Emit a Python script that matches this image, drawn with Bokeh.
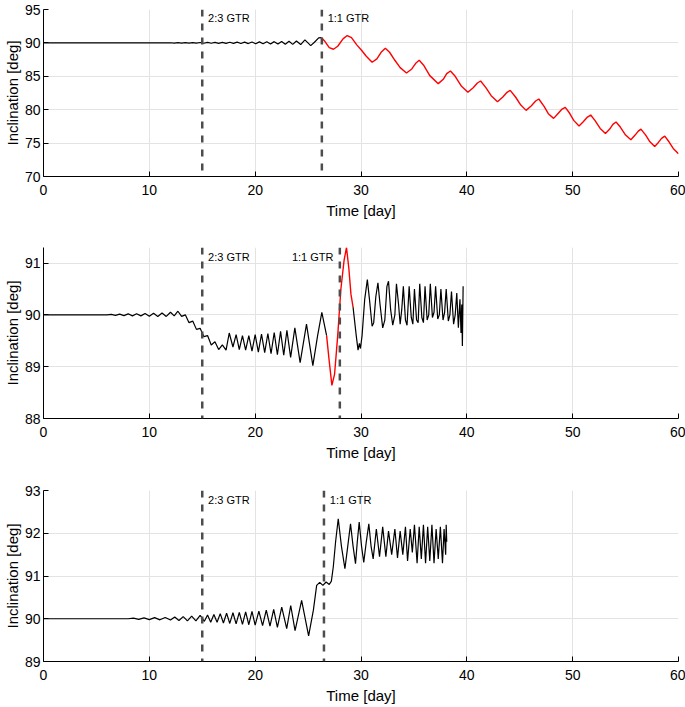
from bokeh.plotting import figure
from bokeh.layouts import column
from bokeh.models import Range1d, Span, Label, FixedTicker
from bokeh.embed import file_html
from bokeh.resources import INLINE

FONT = "Liberation Sans"

# ---------------- data ----------------
x_ticks = [0, 10, 20, 30, 40, 50, 60]

# panel 1
p1_yticks = [70, 75, 80, 85, 90, 95]
p1_black_day = [0, 4, 8, 11, 12.0,
                12.35, 12.7, 13.05, 13.4, 13.75,
                14.1, 14.45, 14.8, 15.15, 15.5,
                15.85, 16.2, 16.55, 16.9, 17.25,
                17.6, 17.95, 18.3, 18.65, 19.0,
                19.35, 19.7, 20.05, 20.4, 20.75,
                21.1, 21.45, 21.8, 22.15, 22.5,
                22.85, 23.2, 23.55, 23.9, 24.3,
                24.7, 25.25, 25.6, 26.0, 26.25]
p1_black_inc = [90.0, 90.0, 90.0, 90.0, 90.02,
                89.98, 90.03, 89.97, 90.04, 89.97,
                90.05, 89.96, 90.06, 89.95, 90.07,
                89.95, 90.08, 89.94, 90.09, 89.93,
                90.1, 89.92, 90.11, 89.91, 90.12,
                89.9, 90.14, 89.88, 90.15, 89.87,
                90.17, 89.85, 90.19, 89.83, 90.21,
                89.8, 90.24, 89.78, 90.28, 89.75,
                90.45, 89.6, 90.1, 90.75, 90.8]
p1_red_day = [26.25, 26.6, 27.0, 27.4, 27.8,
              28.3, 28.7, 29.1, 29.6, 30.05,
              30.5, 31.05, 31.5, 31.9, 32.3,
              32.7, 33.2, 33.7, 34.3, 34.8,
              35.2, 35.5, 35.9, 36.5, 37.3,
              37.8, 38.1, 38.45, 38.9, 39.5,
              40.1, 40.6, 41.0, 41.3, 41.8,
              42.3, 42.9, 43.4, 43.8, 44.1,
              44.6, 45.1, 45.6, 46.1, 46.5,
              46.8, 47.3, 47.7, 48.2, 48.6,
              49.0, 49.3, 49.7, 50.1, 50.6,
              51.0, 51.4, 51.7, 52.1, 52.6,
              53.1, 53.5, 53.8, 54.1, 54.5,
              55.0, 55.5, 55.9, 56.2, 56.45,
              56.9, 57.3, 57.75, 58.1, 58.4,
              58.7, 59.1, 59.5, 60.0]
p1_red_inc = [90.8, 90.2, 89.3, 89.05, 89.5,
              90.6, 91.1, 90.8, 89.7, 88.9,
              88.0, 87.1, 87.6, 88.6, 89.2,
              88.6, 87.4, 86.3, 85.5, 86.1,
              87.0, 87.4, 86.7, 85.1, 83.9,
              84.6, 85.4, 85.8, 85.0, 83.5,
              82.6, 83.3, 84.0, 84.3, 83.3,
              82.1, 81.2, 81.9, 82.6, 82.9,
              81.9, 80.7, 79.9, 80.6, 81.3,
              81.6, 80.5, 79.4, 78.7, 79.4,
              80.1, 80.35, 79.5, 78.4, 77.55,
              78.2, 78.9, 79.2, 78.4, 77.2,
              76.45, 77.1, 77.8, 78.15, 77.4,
              76.2, 75.5, 76.2, 76.8, 77.1,
              76.2, 75.2, 74.5, 75.1, 75.7,
              76.05, 75.2, 74.2, 73.4]
p1_resonances = [15.0, 26.3]

# panel 2
p2_yticks = [88, 89, 90, 91]
p2_black1_day = [0, 3, 6, 6.4, 6.8,
                 7.2, 7.6, 8.0, 8.4, 8.8,
                 9.2, 9.6, 10.0, 10.4, 10.8,
                 11.2, 11.6, 12.0, 12.35, 12.7,
                 13.05, 13.4, 13.75, 14.1, 14.45,
                 14.8, 15.15, 15.5, 15.85, 16.2,
                 16.55, 16.9, 17.25, 17.55, 17.9,
                 18.2, 18.5, 18.8, 19.1, 19.4,
                 19.7, 20.0, 20.3, 20.6, 20.9,
                 21.2, 21.5, 21.8, 22.1, 22.4,
                 22.7, 23.0, 23.35, 23.75, 24.25,
                 24.85, 25.45, 25.9, 26.3, 26.75]
p2_black1_inc = [90.0, 90.0, 90.0, 90.01, 89.99,
                 90.015, 89.985, 90.02, 89.98, 90.02,
                 89.98, 90.025, 89.975, 90.03, 89.97,
                 90.035, 89.97, 90.05, 89.98, 90.07,
                 89.97, 90.0, 89.85, 89.88, 89.72,
                 89.74, 89.58, 89.6, 89.42, 89.48,
                 89.33, 89.42, 89.32, 89.65, 89.38,
                 89.62, 89.33, 89.6, 89.32, 89.6,
                 89.3, 89.62, 89.28, 89.63, 89.27,
                 89.64, 89.25, 89.66, 89.23, 89.68,
                 89.22, 89.7, 89.18, 89.75, 89.08,
                 89.82, 89.02, 89.6, 90.05, 89.6]
p2_red_day = [26.75, 27.0, 27.25, 27.5, 27.8,
              28.1, 28.4, 28.63, 28.85, 29.05,
              29.25]
p2_red_inc = [89.6, 89.1, 88.64, 88.85, 89.6,
              90.5, 91.05, 91.3, 90.9, 90.4,
              90.15]
p2_black2_day = [29.25, 29.55, 29.72, 29.85, 29.95,
                 30.1, 30.35, 30.6, 30.8, 31.05,
                 31.2, 31.4, 31.6, 31.8, 32.05,
                 32.25, 32.45, 32.6, 32.8, 33.0,
                 33.2, 33.35, 33.55, 33.7, 33.85,
                 34.0, 34.2, 34.35, 34.55, 34.75,
                 34.9, 35.05, 35.25, 35.4, 35.55,
                 35.75, 35.9, 36.05, 36.25, 36.4,
                 36.55, 36.75, 36.9, 37.05, 37.25,
                 37.4, 37.55, 37.75, 37.9, 38.05,
                 38.25, 38.4, 38.55, 38.75, 38.9,
                 39.05, 39.2, 39.35, 39.45, 39.52,
                 39.58, 39.65]
p2_black2_inc = [90.15, 89.6, 89.32, 89.45, 89.35,
                 89.6, 90.3, 90.68, 90.3, 89.78,
                 89.85, 90.35, 90.62, 90.2, 89.75,
                 89.9, 90.55, 90.65, 90.1, 89.8,
                 90.0, 90.6, 90.2, 89.82, 90.1,
                 90.55, 89.9, 89.8, 90.55, 89.95,
                 89.82, 90.5, 89.9, 89.85, 90.6,
                 89.95, 89.85, 90.55, 89.9, 90.0,
                 90.6, 89.95, 90.05, 90.55, 89.92,
                 90.0, 90.5, 89.9, 90.05, 90.5,
                 89.88, 90.0, 90.45, 89.82, 90.0,
                 90.42, 89.75, 90.3, 89.65, 90.2,
                 89.4, 90.55]
p2_resonances = [15.0, 28.0]

# panel 3
p3_yticks = [89, 90, 91, 92, 93]
p3_day = [0, 4, 8, 8.5, 9.0,
          9.5, 10.0, 10.5, 11.0, 11.5,
          12.0, 12.4, 12.8, 13.2, 13.6,
          14.0, 14.4, 14.8, 15.2, 15.5,
          15.8, 16.1, 16.4, 16.7, 17.0,
          17.3, 17.6, 17.9, 18.2, 18.5,
          18.8, 19.1, 19.4, 19.7, 20.0,
          20.35, 20.7, 21.05, 21.4, 21.75,
          22.1, 22.51, 22.98, 23.36, 23.77,
          24.39, 25.05, 25.5, 25.81, 26.1,
          26.4, 26.7, 27.0, 27.2, 27.38,
          27.6, 27.85, 28.15, 28.48, 28.75,
          29.01, 29.25, 29.48, 29.65, 29.83,
          30.05, 30.26, 30.5, 30.74, 30.95,
          31.15, 31.45, 31.75, 32.05, 32.35,
          32.6, 32.9, 33.2, 33.45, 33.7,
          33.95, 34.2, 34.4, 34.65, 34.85,
          35.05, 35.3, 35.5, 35.7, 35.9,
          36.1, 36.3, 36.5, 36.7, 36.9,
          37.1, 37.3, 37.5, 37.7, 37.85,
          38.0, 38.05, 38.1]
p3_inc = [90.0, 90.0, 90.0, 90.015, 89.985,
          90.02, 89.98, 90.025, 89.975, 90.03,
          89.97, 90.04, 89.96, 90.05, 89.95,
          90.06, 89.95, 90.08, 89.94, 90.09,
          89.92, 90.1, 89.92, 90.12, 89.9,
          90.13, 89.89, 90.14, 89.88, 90.15,
          89.87, 90.16, 89.86, 90.17, 89.85,
          90.18, 89.84, 90.2, 89.83, 90.22,
          89.8, 90.27, 89.77, 90.31, 89.72,
          90.43, 89.6, 90.2, 90.78, 90.85,
          90.78, 90.86, 90.8, 90.88, 91.21,
          91.8, 92.34, 91.7, 91.17, 91.7,
          92.22, 91.7, 91.29, 91.8, 92.26,
          91.7, 91.32, 91.8, 92.22, 91.7,
          91.4, 92.1, 91.45, 92.15, 91.45,
          92.05, 91.5, 92.1, 91.42, 92.05,
          91.5, 92.15, 91.35, 92.1, 91.55,
          92.2, 91.3, 92.15, 91.4, 92.2,
          91.3, 92.15, 91.35, 92.2, 91.3,
          92.1, 91.4, 92.15, 91.3, 92.1,
          91.5, 92.2, 91.8]
p3_resonances = [15.0, 26.5]

res_labels = ["2:3 GTR", "1:1 GTR"]


# ---------------- figures ----------------
def make_fig(height, top, bottom, yr, yticks):
    p = figure(width=685, height=height, x_range=Range1d(0, 60),
               y_range=Range1d(*yr), output_backend="svg",
               toolbar_location=None, min_border_left=40,
               min_border_right=7, min_border_top=top,
               min_border_bottom=bottom)
    p.outline_line_color = None
    p.background_fill_color = "white"
    p.border_fill_color = "white"
    p.xaxis.ticker = FixedTicker(ticks=x_ticks)
    p.yaxis.ticker = FixedTicker(ticks=yticks)
    for ax in (p.xaxis[0], p.yaxis[0]):
        ax.major_tick_in = 5
        ax.major_tick_out = 0
        ax.minor_tick_line_color = None
        ax.axis_line_color = "black"
        ax.axis_line_width = 1
        ax.major_tick_line_color = "black"
        ax.major_label_text_font = FONT
        ax.major_label_text_font_size = "14px"
        ax.major_label_text_color = "black"
        ax.axis_label_text_font = FONT
        ax.axis_label_text_font_size = "15px"
        ax.axis_label_text_font_style = "normal"
        ax.axis_label_text_color = "black"
    p.xaxis.axis_label = "Time [day]"
    p.yaxis.axis_label = "Inclination [deg]"
    p.xaxis.major_label_standoff = 8
    p.xaxis.axis_label_standoff = 4
    p.yaxis.major_label_standoff = 3
    p.yaxis.axis_label_standoff = 1
    p.xgrid.grid_line_color = "#e3e3e3"
    p.ygrid.grid_line_color = "#e3e3e3"
    return p


def add_res(p, locs, label_y, aligns, offsets):
    for loc, txt, al, off in zip(locs, res_labels, aligns, offsets):
        p.add_layout(Span(location=loc, dimension="height",
                          line_color="#4d4d4d", line_width=2.5,
                          line_dash="7 7"))
        p.add_layout(Label(x=loc + off, y=label_y, text=txt,
                           text_font=FONT, text_font_size="11px",
                           text_color="black", text_align=al,
                           text_baseline="middle"))


p1 = make_fig(226, 9, 50, (70, 95), p1_yticks)
p1.line(p1_black_day, p1_black_inc, line_color="black", line_width=1.2)
p1.line(p1_red_day, p1_red_inc, line_color="#ff0000", line_width=1.4)
add_res(p1, p1_resonances, 93.7, ["left", "left"], [0.55, 0.55])

p2 = make_fig(242, 21, 50, (88, 91.3), p2_yticks)
p2.line(p2_black1_day, p2_black1_inc, line_color="black", line_width=1.2)
p2.line(p2_red_day, p2_red_inc, line_color="#ff0000", line_width=1.4)
p2.line(p2_black2_day, p2_black2_inc, line_color="black", line_width=1.2)
add_res(p2, p2_resonances, 91.12, ["left", "right"], [0.55, -0.6])

p3 = make_fig(239, 22, 46, (89, 93), p3_yticks)
p3.line(p3_day, p3_inc, line_color="black", line_width=1.2)
add_res(p3, p3_resonances, 92.77, ["left", "left"], [0.55, 0.55])

layout = column(p1, p2, p3)
open("out.html", "w").write(file_html(layout, INLINE))
